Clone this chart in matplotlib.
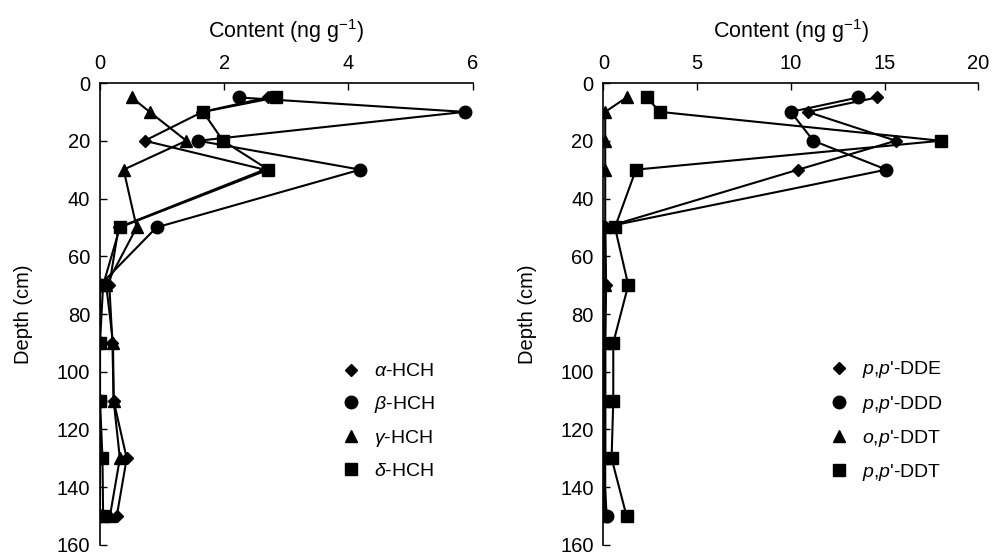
import matplotlib
matplotlib.use('Agg')
import matplotlib.pyplot as plt

plt.rcParams['font.family'] = ['Liberation Sans', 'DejaVu Sans']
plt.rcParams['mathtext.fontset'] = 'custom'
plt.rcParams['mathtext.rm'] = 'Liberation Sans'
plt.rcParams['mathtext.it'] = 'Liberation Sans:italic'

# depth (cm)
depth = [5, 10, 20, 30, 50, 70, 90, 110, 130, 150]

# HCH (ng/g)
a_hch = [2.70, 1.65, 0.72, 2.65, 0.30, 0.15, 0.20, 0.22, 0.43, 0.27]
b_hch = [2.23, 5.87, 1.58, 4.19, 0.91, 0.00, 0.00, 0.00, 0.00, 0.00]
g_hch = [0.51, 0.80, 1.39, 0.38, 0.59, 0.10, 0.21, 0.22, 0.32, 0.16]
d_hch = [2.84, 1.66, 1.98, 2.71, 0.32, 0.05, 0.00, 0.00, 0.04, 0.05]

# DDT (ng/g)
pp_dde = [14.6, 10.9, 15.6, 10.4, 0.10, 0.15, 0.10, 0.10, 0.10, 0.10]
pp_ddd = [13.6, 10.0, 11.2, 15.1, 0.00, 0.00, 0.00, 0.00, 0.00, 0.18]
op_ddt = [1.24, 0.10, 0.10, 0.10, 0.10, 0.10, 0.10, 0.10, 0.10, 0.00]
pp_ddt = [2.31, 3.02, 18.0, 1.74, 0.62, 1.33, 0.53, 0.53, 0.44, 1.24]

hch_labels = [r'$\alpha$-HCH', r'$\beta$-HCH', r'$\gamma$-HCH', r'$\delta$-HCH']
ddt_labels = [r"$\mathit{p{,}p}$'-DDE", r"$\mathit{p{,}p}$'-DDD",
              r"$\mathit{o{,}p}$'-DDT", r"$\mathit{p{,}p}$'-DDT"]

markers = ['D', 'o', '^', 's']
msizes = [6.5, 9, 9, 8.5]

fig = plt.figure(figsize=(9.92, 5.56), dpi=100)
ax1 = fig.add_axes([0.1008, 0.0198, 0.3757, 0.8309])
ax2 = fig.add_axes([0.6082, 0.0198, 0.3780, 0.8309])

def draw(ax, series, labels, xmax, xstep, legx):
    for s, lab, m, ms in zip(series, labels, markers, msizes):
        ax.plot(s, depth, color='black', lw=1.5, marker=m, ms=ms, label=lab)
    ax.set_xlim(0, xmax)
    ax.set_ylim(160, 0)
    ax.set_xticks(range(0, xmax + 1, xstep))
    ax.set_yticks(range(0, 161, 20))
    ax.xaxis.tick_top()
    ax.xaxis.set_label_position('top')
    ax.set_xlabel(r'Content (ng g$^{-1}$)', fontsize=15.5, labelpad=12)
    ax.set_ylabel('Depth (cm)', fontsize=14.5, labelpad=17)
    ax.tick_params(direction='in', length=5, width=1, labelsize=14.5, pad=7)
    ax.spines['right'].set_visible(False)
    ax.spines['bottom'].set_visible(False)
    for sp in ['left', 'top']:
        ax.spines[sp].set_linewidth(1.2)
    leg = ax.legend(loc='center left', bbox_to_anchor=(legx, 0.268), frameon=False,
                    fontsize=14, handlelength=1.0, handletextpad=0.7,
                    labelspacing=0.68)
    for h in leg.legend_handles:
        h.set_linestyle('None')

draw(ax1, [a_hch, b_hch, g_hch, d_hch], hch_labels, 6, 2, 0.6)
draw(ax2, [pp_dde, pp_ddd, op_ddt, pp_ddt], ddt_labels, 20, 5, 0.555)

fig.savefig('out.png', dpi=100)
